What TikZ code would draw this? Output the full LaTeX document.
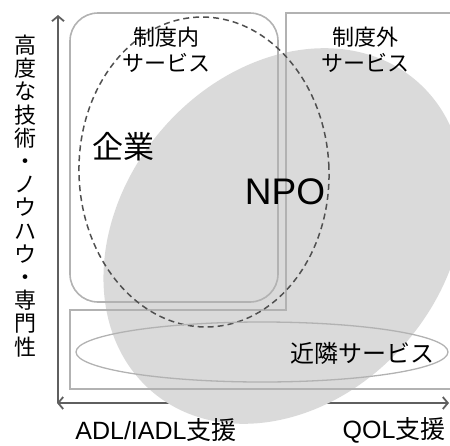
\documentclass[tikz,border=0pt]{standalone}
\usepackage{fontspec}
\setmainfont{Liberation Sans}
\newfontfamily\jp{Noto Sans CJK JP}
\usetikzlibrary{arrows.meta}
\definecolor{npogray}{RGB}{218,218,218}
\definecolor{boxgray}{RGB}{178,178,178}
\definecolor{axisgray}{RGB}{95,95,95}
\definecolor{dashgray}{RGB}{80,80,80}
\begin{document}
\begin{tikzpicture}[x=1pt,y=1pt,
  boxline/.style={draw=boxgray, line width=1.6pt},
  axisline/.style={draw=axisgray, line width=1.8pt},
  lbl/.style={inner sep=0pt, align=center, text=black},
]
\useasboundingbox (0,0) rectangle (450,-445);
% axes
\coordinate (O) at (58,-403);
\coordinate (Ytop) at (58,-15);
\coordinate (Xleft) at (57,-403);
\coordinate (Xright) at (449,-403);
\draw[axisline, -{Straight Barb[length=5pt,width=12pt]}] (O) -- (Ytop);
\draw[axisline, {Straight Barb[length=5pt,width=12pt]}-{Straight Barb[length=5pt,width=12pt]}] (Xleft) -- (Xright);
% NPO region
\fill[npogray, rotate around={50:(284,-236)}] (284,-236) ellipse [x radius=204pt, y radius=162pt];
% boxes
\draw[boxline, rounded corners=28pt] (70,-13) rectangle (278,-302);
\draw[boxline] (451,-13) -- (286,-13) -- (286,-310) -- (70,-310) -- (70,-389) -- (451,-389);
% company ellipse
\draw[dashgray, line width=1.5pt, dash pattern=on 6pt off 4pt, rotate around={2:(204,-172)}] (204,-172) ellipse [x radius=125pt, y radius=155pt];
% neighbourhood ellipse
\draw[boxline, line width=1.3pt] (262,-352) ellipse [x radius=186pt, y radius=30pt];
% labels
\node[lbl, font=\jp\fontsize{22}{26}\selectfont] (inner) at (166,-50) {制度内\\サービス};
\node[lbl, font=\jp\fontsize{22}{26}\selectfont] (outer) at (365,-50) {制度外\\サービス};
\node[lbl, font=\jp\fontsize{31}{31}\selectfont] (kigyo) at (123,-147) {企業};
\node[lbl, font=\fontsize{37}{37}\selectfont] (npo) at (285,-192) {NPO};
\node[lbl, font=\jp\fontsize{24}{24}\selectfont] (kinrin) at (362,-353) {近隣サービス};
\node[lbl, font=\jp\fontsize{22}{23.2}\selectfont] (yaxis) at (25,-196) {高\\度\\な\\技\\術\\・\\ノ\\ウ\\ハ\\ウ\\・\\専\\門\\性};
\node[lbl, font=\fontsize{25}{25}\selectfont] (adl) at (156,-430) {ADL/IADL{\jp 支援}};
\node[lbl, font=\fontsize{25}{25}\selectfont] (qol) at (394,-430) {QOL{\jp 支援}};
\end{tikzpicture}
\end{document}
